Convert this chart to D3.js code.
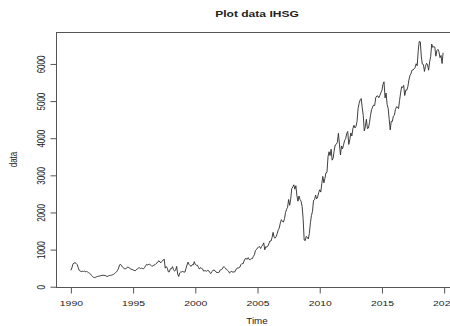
<!DOCTYPE html>
<html>
<head>
<meta charset="utf-8">
<script src="https://cdn.jsdelivr.net/npm/d3@7"></script>
<style>
  html, body { margin: 0; padding: 0; background: #fff; }
  svg { display: block; }
  text { font-family: "Liberation Sans", Arial, Helvetica, sans-serif; fill: #222; }
</style>
</head>
<body>
<svg id="chart" width="450" height="326"></svg>
<script>
// Monthly closing level of the IHSG (Jakarta Composite Index), Jan 1990 - Dec 2019
const startYear = 1990;
const y1990 = [440, 510, 610, 640, 645, 630, 600, 520, 440, 420, 410, 418];
const y1991 = [410, 420, 405, 410, 400, 380, 360, 340, 300, 270, 250, 247];
const y1992 = [255, 270, 280, 285, 290, 300, 305, 310, 305, 300, 290, 274];
const y1993 = [290, 300, 305, 310, 320, 330, 350, 380, 400, 440, 500, 589];
const y1994 = [600, 560, 520, 500, 480, 490, 510, 530, 515, 490, 470, 470];
const y1995 = [450, 440, 430, 450, 480, 500, 510, 490, 500, 490, 480, 514];
const y1996 = [560, 600, 590, 600, 610, 580, 550, 560, 580, 590, 620, 637];
const y1997 = [680, 700, 660, 650, 690, 720, 745, 500, 545, 500, 400, 402];
const y1998 = [485, 482, 541, 460, 420, 445, 546, 343, 276, 374, 400, 398];
const y1999 = [412, 396, 393, 495, 586, 662, 597, 568, 548, 594, 585, 676];
const y2000 = [600, 578, 583, 525, 475, 515, 495, 480, 421, 430, 430, 416];
const y2001 = [440, 430, 381, 355, 410, 437, 446, 436, 393, 384, 380, 392];
const y2002 = [451, 453, 481, 534, 531, 505, 463, 444, 419, 369, 390, 425];
const y2003 = [388, 399, 398, 451, 494, 505, 507, 529, 597, 625, 617, 691];
const y2004 = [752, 761, 736, 783, 733, 732, 756, 754, 820, 861, 977, 1000];
const y2005 = [1045, 1073, 1080, 1029, 1088, 1122, 1182, 994, 1079, 1066, 1096, 1163];
const y2006 = [1232, 1230, 1323, 1464, 1330, 1310, 1351, 1431, 1534, 1582, 1718, 1806];
const y2007 = [1757, 1741, 1830, 1999, 2084, 2139, 2349, 2194, 2359, 2643, 2688, 2746];
const y2008 = [2627, 2721, 2447, 2304, 2444, 2350, 2304, 2166, 1833, 1257, 1241, 1355];
const y2009 = [1333, 1285, 1434, 1723, 1917, 2027, 2323, 2342, 2468, 2368, 2416, 2534];
const y2010 = [2611, 2549, 2777, 2971, 2797, 2914, 3069, 3082, 3501, 3635, 3531, 3704];
const y2011 = [3409, 3470, 3679, 3819, 3837, 3889, 4131, 3842, 3549, 3791, 3715, 3822];
const y2012 = [3942, 3985, 4122, 4181, 3833, 3956, 4142, 4060, 4263, 4350, 4276, 4317];
const y2013 = [4454, 4796, 4941, 5034, 5069, 4819, 4610, 4195, 4316, 4510, 4256, 4274];
const y2014 = [4419, 4620, 4768, 4840, 4894, 4879, 5089, 5137, 5138, 5090, 5150, 5227];
const y2015 = [5289, 5450, 5519, 5086, 5216, 4911, 4803, 4510, 4224, 4455, 4446, 4593];
const y2016 = [4615, 4771, 4845, 4839, 4797, 5017, 5216, 5386, 5365, 5423, 5149, 5297];
const y2017 = [5294, 5387, 5568, 5685, 5738, 5830, 5841, 5864, 5901, 6006, 5952, 6356];
const y2018 = [6606, 6597, 6189, 5995, 5984, 5799, 5936, 6018, 5977, 5832, 6056, 6195];
const y2019 = [6533, 6443, 6469, 6455, 6209, 6359, 6391, 6328, 6169, 6228, 6012, 6300];

const xTicks = [1990, 1995, 2000, 2005, 2010, 2015, 2020];
const yTicks = [0, 1000, 2000, 3000, 4000, 5000, 6000];
const titleText = "Plot data IHSG";
const xLabel = "Time";
const yLabel = "data";

const values = [].concat(y1990, y1991, y1992, y1993, y1994, y1995, y1996, y1997, y1998, y1999,
  y2000, y2001, y2002, y2003, y2004, y2005, y2006, y2007, y2008, y2009,
  y2010, y2011, y2012, y2013, y2014, y2015, y2016, y2017, y2018, y2019);
const series = values.map((v, i) => ({ t: startYear + i / 12, v }));

// plot region (R style: 4% padding on both axes)
const plot = { left: 56, right: 458, top: 32, bottom: 287 };
const tExt = d3.extent(series, d => d.t);
const vExt = d3.extent(series, d => d.v);
const tPad = (tExt[1] - tExt[0]) * 0.04;
const vPad = (vExt[1] - vExt[0]) * 0.04;

const x = d3.scaleLinear().domain([tExt[0] - tPad, tExt[1] + tPad]).range([plot.left, plot.right]);
const y = d3.scaleLinear().domain([vExt[0] - vPad, vExt[1] + vPad]).range([plot.bottom, plot.top]);

const svg = d3.select("#chart");
const SX = 1.3; // glyphs are drawn slightly widened

// series line
svg.append("path")
  .datum(series)
  .attr("fill", "none")
  .attr("stroke", "#2a2a2a")
  .attr("stroke-width", 0.9)
  .attr("stroke-linejoin", "round")
  .attr("d", d3.line().x(d => x(d.t)).y(d => y(d.v)));

// box around plot region
svg.append("rect")
  .attr("x", plot.left + 0.5).attr("y", plot.top + 0.5)
  .attr("width", plot.right - plot.left).attr("height", plot.bottom - plot.top)
  .attr("fill", "none").attr("stroke", "#555").attr("stroke-width", 1);

// x axis
const xAxis = svg.append("g").attr("transform", `translate(0,${plot.bottom + 0.5})`)
  .call(d3.axisBottom(x).tickValues(xTicks).tickSize(6).tickSizeOuter(0).tickFormat(d3.format("d")));
xAxis.select(".domain").attr("stroke", "#555")
  .attr("d", `M${x(xTicks[0])},0H${x(xTicks[xTicks.length - 1])}`);
xAxis.selectAll(".tick line").attr("stroke", "#555");
xAxis.selectAll(".tick text")
  .attr("y", 0).attr("dy", 0)
  .attr("transform", `translate(0,18) scale(${SX},1)`)
  .attr("font-size", 8).attr("fill", "#222")
  .attr("font-family", "Liberation Sans, Arial, sans-serif");

// y axis
const yAxis = svg.append("g").attr("transform", `translate(${plot.left + 0.5},0)`)
  .call(d3.axisLeft(y).tickValues(yTicks).tickSize(6).tickSizeOuter(0).tickFormat(d3.format("d")));
yAxis.select(".domain").attr("stroke", "#555")
  .attr("d", `M0,${y(yTicks[0])}V${y(yTicks[yTicks.length - 1])}`);
yAxis.selectAll(".tick line").attr("stroke", "#555");
yAxis.selectAll(".tick text")
  .attr("x", 0).attr("dy", 0)
  .attr("text-anchor", "middle")
  .attr("transform", `translate(-15,0) scale(${SX},1) rotate(-90) translate(0,2.8)`)
  .attr("font-size", 8).attr("fill", "#222")
  .attr("font-family", "Liberation Sans, Arial, sans-serif");

// title
svg.append("text")
  .attr("text-anchor", "middle")
  .attr("transform", `translate(${(plot.left + plot.right) / 2},17) scale(1.27,1)`)
  .attr("font-size", 9.5).attr("font-weight", "bold")
  .text(titleText);

// axis labels
svg.append("text")
  .attr("text-anchor", "middle")
  .attr("transform", `translate(${(plot.left + plot.right) / 2},324) scale(1.15,1)`)
  .attr("font-size", 8.5)
  .text(xLabel);

svg.append("text")
  .attr("text-anchor", "middle")
  .attr("transform", `translate(17,${(plot.top + plot.bottom) / 2}) scale(${SX},1) rotate(-90)`)
  .attr("font-size", 8)
  .text(yLabel);
</script>
</body>
</html>
